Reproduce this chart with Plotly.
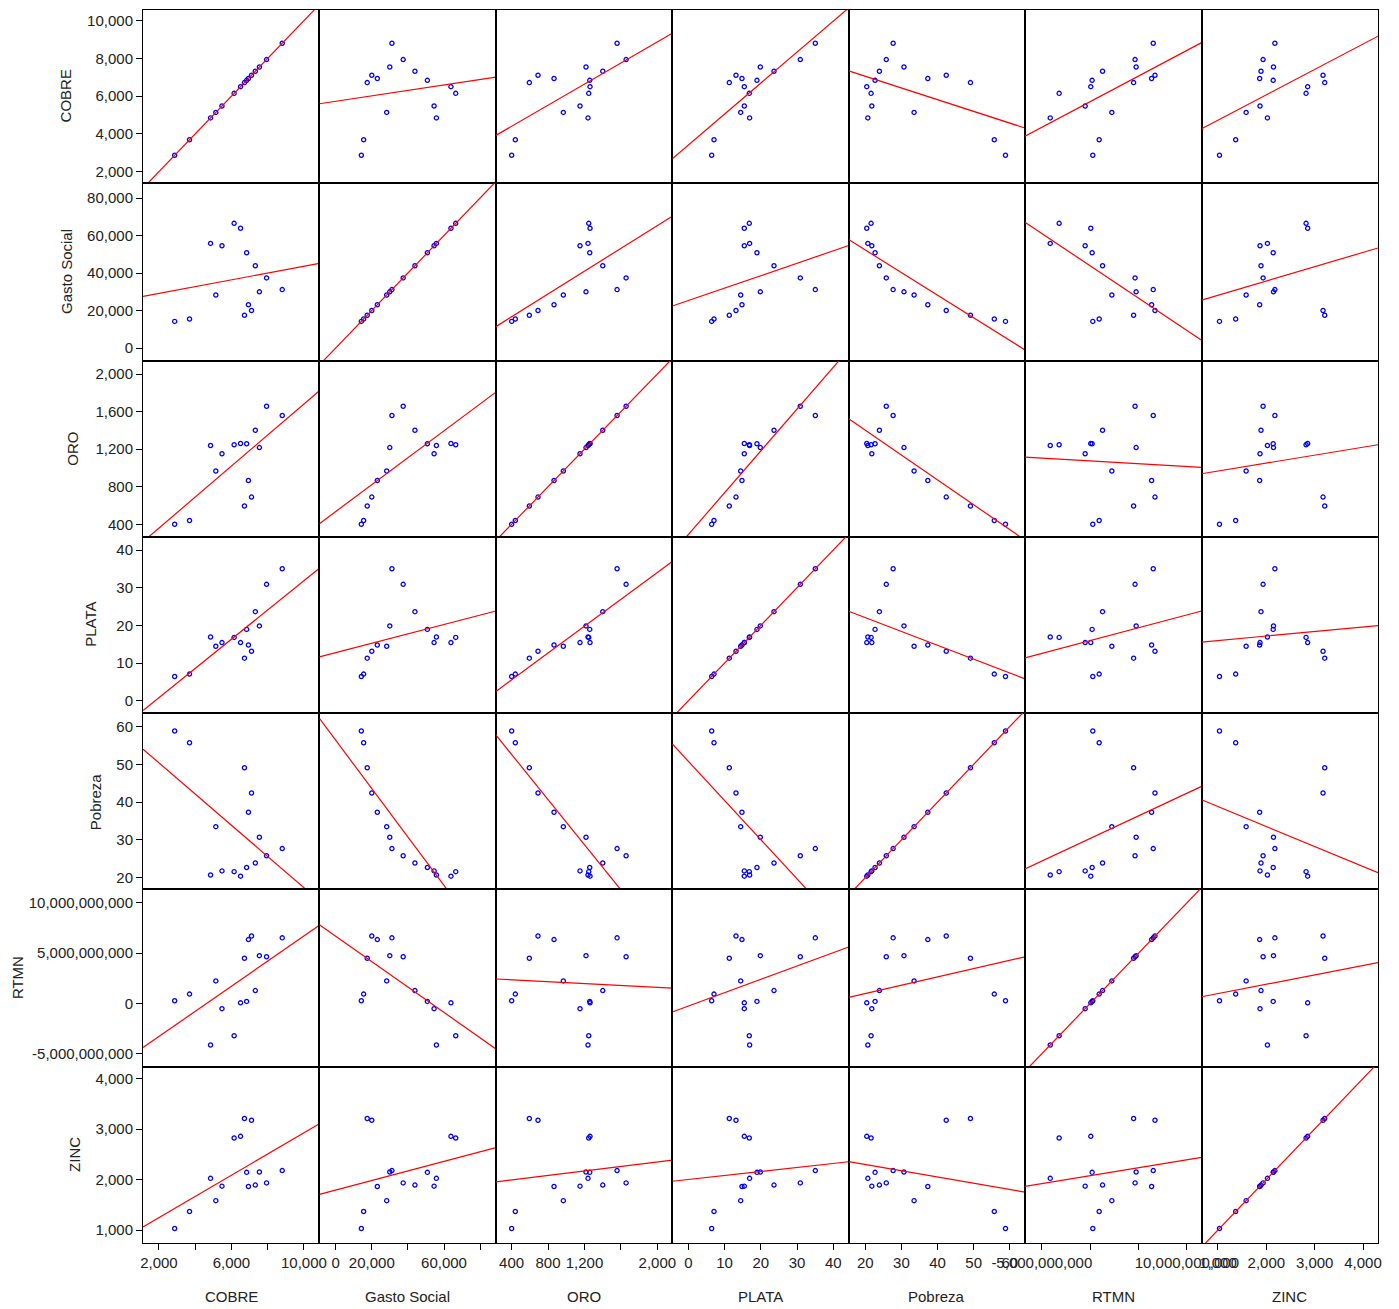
import numpy as np
import plotly.graph_objects as go

W, H = 1399, 1309

variables = ["COBRE", "Gasto Social", "ORO", "PLATA", "Pobreza", "RTMN", "ZINC"]

cobre = [2870, 3690, 4850, 5140, 5480, 6150, 6505, 6720, 6840, 6940, 7110, 7320, 7545, 7940, 8805]
gasto = [14200, 15480, 55780, 28250, 54500, 66490, 63850, 17460, 50780, 23060, 20000, 43900, 29960, 37380, 31150]
oro = [401, 441, 1239, 968, 1151, 1247, 1261, 595, 1258, 866, 690, 1401, 1217, 1657, 1558]
plata = [6.43, 7.07, 16.9, 14.44, 15.43, 16.81, 15.43, 11.29, 18.93, 14.79, 13.14, 23.63, 19.85, 30.89, 35.04]
pobreza = [58.8, 55.7, 20.7, 33.5, 21.8, 21.6, 20.4, 49.1, 22.7, 37.3, 42.4, 23.9, 30.7, 25.8, 27.7]
rtmn = [0.27e9, 0.93e9, -4.13e9, 2.24e9, -0.52e9, -3.21e9, 0.06e9, 4.49e9, 0.20e9, 6.35e9, 6.70e9, 1.28e9, 4.75e9, 4.64e9, 6.52e9]
zinc = [1031, 1366, 2023, 1582, 1869, 2822, 2855, 3208, 2142, 1862, 3173, 1890, 2148, 1933, 2177]

series = [cobre, gasto, oro, plata, pobreza, rtmn, zinc]

# y-axis ticks (left column)
y_tickvals = [
    [2000, 4000, 6000, 8000, 10000],
    [0, 20000, 40000, 60000, 80000],
    [400, 800, 1200, 1600, 2000],
    [0, 10, 20, 30, 40],
    [20, 30, 40, 50, 60],
    [-5e9, 0, 5e9, 10e9],
    [1000, 2000, 3000, 4000],
]
y_ticktext = [
    ["2,000", "4,000", "6,000", "8,000", "10,000"],
    ["0", "20,000", "40,000", "60,000", "80,000"],
    ["400", "800", "1,200", "1,600", "2,000"],
    ["0", "10", "20", "30", "40"],
    ["20", "30", "40", "50", "60"],
    ["-5,000,000,000", "0", "5,000,000,000", "10,000,000,000"],
    ["1,000", "2,000", "3,000", "4,000"],
]
# x-axis ticks (bottom row)
x_tickvals = [
    [2000, 4000, 6000, 8000, 10000],
    [0, 20000, 40000, 60000, 80000],
    [400, 800, 1200, 1600, 2000],
    [0, 10, 20, 30, 40],
    [20, 30, 40, 50, 60],
    [-5e9, 0, 5e9, 10e9],
    [1000, 2000, 3000, 4000],
]
x_ticktext = [
    ["2,000", "", "6,000", "", "10,000"],
    ["0", "20,000", "", "60,000", ""],
    ["400", "800", "1,200", "", "2,000"],
    ["0", "10", "20", "30", "40"],
    ["20", "30", "40", "50", "60"],
    ["-5,000,000,000", "", "", "10,000,000,000"],
    ["1,000", "2,000", "3,000", "4,000"],
]

# axis ranges (layout)
x_ranges = [[1123, 10855], [-9030, 88750], [228, 2164], [-4.44, 44.25],
            [15.4, 64.2], [-6.74e9, 11.52e9], [661, 4310]]
y_ranges = [[1385, 10593], [-6770, 87840], [268, 2142], [-3.26, 43.53],
            [16.9, 63.57], [-6.30e9, 11.34e9], [743, 4232]]

col_px = [143, 319.4, 495.9, 672.3, 848.7, 1025, 1201.6, 1378]
row_px = [9.5, 183.3, 360.7, 536.7, 713, 889.4, 1066.8, 1243]
ytitle_x_px = [65, 66, 73, 91, 95, 17, 75]

FONT = "Liberation Sans, Arial, sans-serif"
fig = go.Figure()
layout = {}
n = len(variables)
for i in range(n):
    for j in range(n):
        idx = i * n + j + 1
        xn = "x" if idx == 1 else f"x{idx}"
        yn = "y" if idx == 1 else f"y{idx}"
        xv = np.array(series[j], dtype=float)
        yv = np.array(series[i], dtype=float)
        fig.add_trace(go.Scatter(
            x=xv, y=yv, mode="markers", xaxis=xn, yaxis=yn,
            marker=dict(symbol="circle-open", size=4.2, color="#0000ff",
                        line=dict(width=1.3, color="#0000ff")),
            showlegend=False, hoverinfo="skip"))
        b, a = np.polyfit(xv, yv, 1)
        lx = np.array(x_ranges[j], dtype=float)
        fig.add_trace(go.Scatter(
            x=lx, y=a + b * lx, mode="lines", xaxis=xn, yaxis=yn,
            line=dict(color="#ff0000", width=1.2),
            showlegend=False, hoverinfo="skip"))
        bottom = (i == n - 1)
        left = (j == 0)
        layout["xaxis" if idx == 1 else f"xaxis{idx}"] = dict(
            domain=[col_px[j] / W, col_px[j + 1] / W], anchor=yn,
            range=x_ranges[j], showgrid=False, zeroline=False, automargin=False,
            showline=True, mirror=True, linecolor="black", linewidth=1,
            ticks="outside" if bottom else "", ticklen=6, tickcolor="black",
            tickvals=x_tickvals[j], ticktext=x_ticktext[j],
            showticklabels=bottom, tickangle=0,
            tickfont=dict(family=FONT, size=15, color="#222222"))
        layout["yaxis" if idx == 1 else f"yaxis{idx}"] = dict(
            domain=[1 - row_px[i + 1] / H, 1 - row_px[i] / H], anchor=xn,
            range=y_ranges[i], showgrid=False, zeroline=False, automargin=False,
            showline=True, mirror=True, linecolor="black", linewidth=1,
            ticks="outside" if left else "", ticklen=6, tickcolor="black",
            tickvals=y_tickvals[i], ticktext=y_ticktext[i],
            showticklabels=left,
            tickfont=dict(family=FONT, size=15, color="#222222"))

annotations = []
for k, name in enumerate(variables):
    cy = (row_px[k] + row_px[k + 1]) / 2
    annotations.append(dict(
        text=name, xref="paper", yref="paper", x=ytitle_x_px[k] / W, y=1 - cy / H,
        xanchor="center", yanchor="middle", textangle=-90, showarrow=False,
        font=dict(family=FONT, size=15, color="#222222")))
    cx = (col_px[k] + col_px[k + 1]) / 2
    annotations.append(dict(
        text=name, xref="paper", yref="paper", x=cx / W, y=1 - 1296 / H,
        xanchor="center", yanchor="middle", showarrow=False,
        font=dict(family=FONT, size=15, color="#222222")))

fig.update_layout(
    width=W, height=H, margin=dict(l=0, r=0, t=0, b=0, autoexpand=False),
    paper_bgcolor="white", plot_bgcolor="white",
    annotations=annotations, **layout)

fig.write_html("out.html", config={"displayModeBar": False},
               post_script="document.body.style.margin='0';")
